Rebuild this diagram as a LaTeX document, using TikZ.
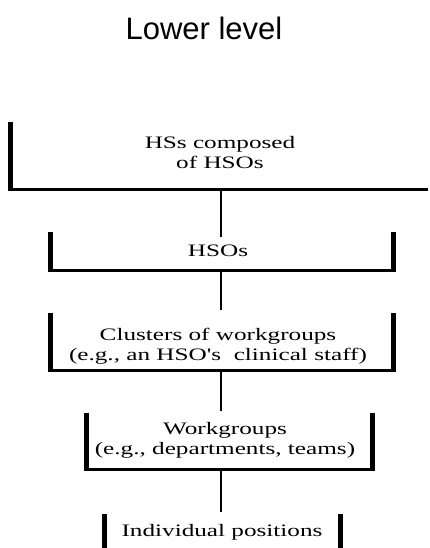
\documentclass[tikz,border=0pt]{standalone}
\usepackage{fontspec}
\setmainfont{Liberation Serif}
\newfontfamily\boxfont[FakeStretch=1.44,Ligatures=TeXOff]{Liberation Serif}
\newfontfamily\titlefont{Liberation Sans}
\begin{document}
\begin{tikzpicture}[x=1pt,y=-1pt,
  lbl/.style={font=\boxfont\fontsize{17.5}{20}\selectfont, align=center, inner sep=0pt},
  ttl/.style={font=\titlefont\fontsize{31}{36}\selectfont, inner sep=0pt},
  side/.style={line width=5pt},
  base/.style={line width=3pt},
  link/.style={line width=2.5pt}]
\useasboundingbox (0,0) rectangle (430,548);
\node[ttl] (title) at (204,28) {Lower level};

% box 1
\draw[base] (10,189) -- (428,189);
\draw[side] (10,122) -- (10,190.5);
\node[lbl] (b1) at (220,153) {HSs composed\\of HSOs};

% box 2
\draw[base] (50,270) -- (393,270);
\draw[side] (50,232) -- (50,271.5);
\draw[side] (393,232) -- (393,271.5);
\node[lbl] (b2) at (218,251) {HSOs};

% box 3
\draw[base] (50,370) -- (393,370);
\draw[side] (50,313) -- (50,371.5);
\draw[side] (393,313) -- (393,371.5);
\node[lbl] (b3) at (218,346) {Clusters of workgroups\\(e.g., an HSO's\ \ clinical staff)};

% box 4
\draw[base] (86,469) -- (372,469);
\draw[side] (86,413) -- (86,470.5);
\draw[side] (372,413) -- (372,470.5);
\node[lbl] (b4) at (225,440) {Workgroups\\(e.g., departments, teams)};

% box 5
\draw[side] (104,514) -- (104,548);
\draw[side] (340,514) -- (340,548);
\node[lbl] (b5) at (222,532) {Individual positions};

% connectors
\coordinate (c1a) at (221,190);
\coordinate (c1b) at (221,237);
\coordinate (c2a) at (221,271);
\coordinate (c2b) at (221,310);
\coordinate (c3a) at (221,371);
\coordinate (c3b) at (221,411);
\coordinate (c4a) at (221,470);
\coordinate (c4b) at (221,512);
\draw[link] (c1a) -- (c1b);
\draw[link] (c2a) -- (c2b);
\draw[link] (c3a) -- (c3b);
\draw[link] (c4a) -- (c4b);
\end{tikzpicture}
\end{document}
